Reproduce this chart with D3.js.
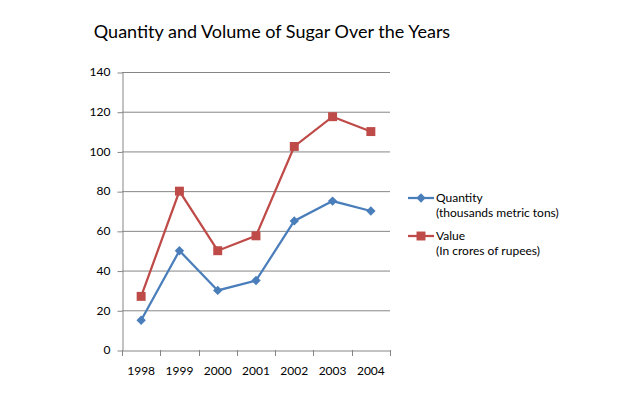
<!DOCTYPE html>
<html>
<head>
<meta charset="utf-8">
<script src="https://cdn.jsdelivr.net/npm/d3@7"></script>
<style>
  body { margin: 0; background: #fff; }
  svg { display: block; font-family: Lato, "Open Sans", sans-serif; }
</style>
</head>
<body>
<svg id="chart"></svg>
<script>
let years = ['1998', '1999', '2000', '2001', '2002', '2003', '2004'];
let quantity = [15, 50, 30, 35, 65, 75, 70];
let value = [27, 80, 50, 57.5, 102.5, 117.5, 110];
let yTicks = [0, 20, 40, 60, 80, 100, 120, 140];

let width = 618;
let height = 396;
let margin = { top: 72, right: 228, bottom: 46, left: 122 };
let plotW = width - margin.left - margin.right;
let plotH = height - margin.top - margin.bottom;

let svg = d3.select('#chart')
  .attr('width', width)
  .attr('height', height);

svg.append('text')
  .attr('x', 272)
  .attr('y', 38)
  .attr('text-anchor', 'middle')
  .style('font-size', '18px')
  .style('fill', '#000')
  .text('Quantity and Volume of Sugar Over the Years');

let g = svg.append('g')
  .attr('transform', 'translate(' + margin.left + ',' + margin.top + ')');

let x = d3.scaleBand().domain(years).range([0, plotW]);
let y = d3.scaleLinear().domain([0, 140]).range([plotH, 0]);

// horizontal gridlines
g.append('g')
  .selectAll('line')
  .data(yTicks.slice(1))
  .enter()
  .append('line')
  .attr('x1', 0)
  .attr('x2', plotW)
  .attr('y1', d => y(d) + 0.5)
  .attr('y2', d => y(d) + 0.5)
  .attr('stroke', '#868686')
  .attr('stroke-width', 1);

// y axis
let yAxis = g.append('g')
  .attr('transform', 'translate(0.5,0)')
  .call(d3.axisLeft(y).tickValues(yTicks).tickSize(5).tickSizeOuter(0));
yAxis.select('.domain').attr('stroke', '#868686');
yAxis.selectAll('.tick line').attr('stroke', '#868686').attr('transform', 'translate(0,0.5)');
yAxis.selectAll('text')
  .attr('x', -12)
  .style('font-size', '12px')
  .style('fill', '#000')
  .style('font-family', 'Lato, sans-serif');

// x axis
let xAxis = g.append('g')
  .attr('transform', 'translate(0,' + (plotH + 0.5) + ')')
  .call(d3.axisBottom(x).tickSize(0).tickSizeOuter(0));
xAxis.select('.domain').attr('stroke', '#868686');
xAxis.selectAll('text')
  .attr('dy', '1.75em')
  .style('font-size', '12px')
  .style('fill', '#000')
  .style('font-family', 'Lato, sans-serif');

// x tick marks at band edges
let edges = years.map(d => x(d)).concat([plotW]);
g.append('g')
  .selectAll('line')
  .data(edges)
  .enter()
  .append('line')
  .attr('x1', d => Math.round(d) + 0.5)
  .attr('x2', d => Math.round(d) + 0.5)
  .attr('y1', plotH)
  .attr('y2', plotH + 6)
  .attr('stroke', '#868686');

let cx = d => x(d) + x.bandwidth() / 2;

let series = [
  { name: 'Quantity', sub: '(thousands metric tons)', data: quantity, color: '#4a7ebb', size: 44, rot: 45 },
  { name: 'Value', sub: '(In crores of rupees)', data: value, color: '#be4b48', size: 80, rot: 0 }
];

series.forEach(function (s) {
  g.append('path')
    .datum(s.data)
    .attr('fill', 'none')
    .attr('stroke', s.color)
    .attr('stroke-width', 2.25)
    .attr('d', d3.line()
      .x((d, i) => cx(years[i]))
      .y(d => y(d)));

  g.selectAll(null)
    .data(s.data)
    .enter()
    .append('path')
    .attr('transform', (d, i) => 'translate(' + cx(years[i]) + ',' + y(d) + ') rotate(' + s.rot + ')')
    .attr('d', d3.symbol().type(d3.symbolSquare).size(s.size))
    .attr('fill', s.color);
});

// legend
let legend = svg.selectAll('.legend')
  .data(series)
  .enter()
  .append('g')
  .attr('class', 'legend')
  .attr('transform', (d, i) => 'translate(408,' + (198 + i * 38) + ')');

legend.append('line')
  .attr('x1', 0)
  .attr('x2', 26)
  .attr('stroke', d => d.color)
  .attr('stroke-width', 2.25);

legend.append('path')
  .attr('transform', d => 'translate(13,0) rotate(' + d.rot + ')')
  .attr('d', d => d3.symbol().type(d3.symbolSquare).size(d.size)())
  .attr('fill', d => d.color);

legend.append('text')
  .attr('x', 28)
  .attr('y', 4)
  .style('font-size', '12px')
  .text(d => d.name);

legend.append('text')
  .attr('x', 28)
  .attr('y', 19)
  .style('font-size', '12px')
  .text(d => d.sub);
</script>
</body>
</html>
